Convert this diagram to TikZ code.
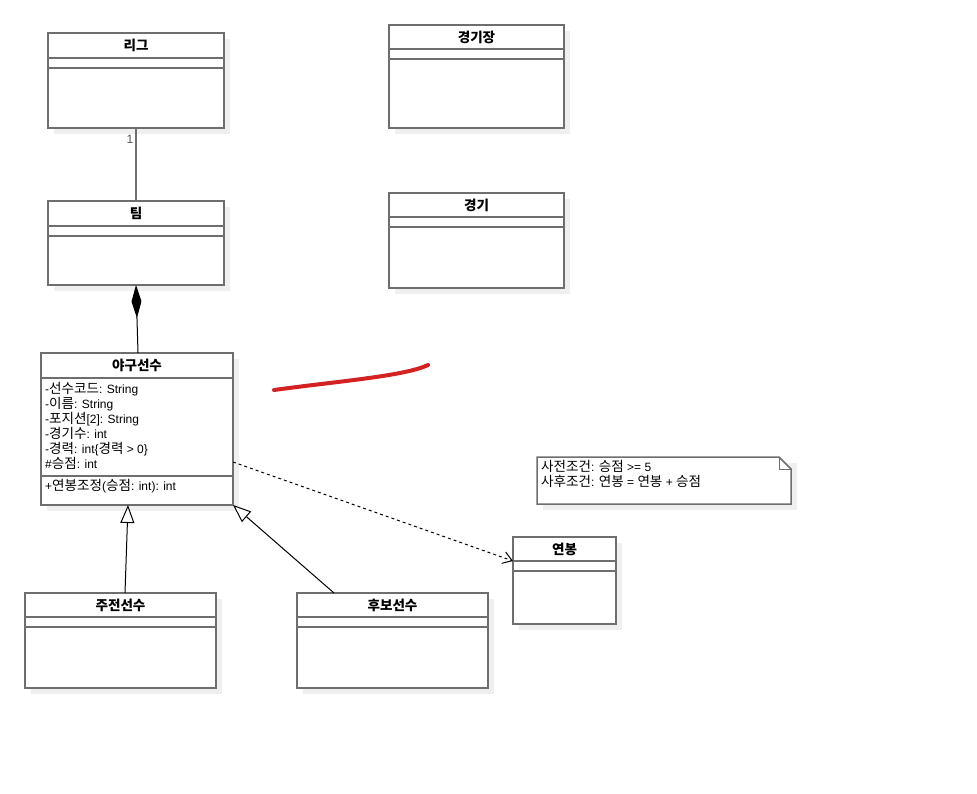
\documentclass[tikz,border=0pt]{standalone}
\usepackage{fontspec}
\setmainfont{Liberation Sans}
\newfontfamily\krfamily[Scale=1.13]{Noto Sans CJK KR}
\XeTeXinterchartokenstate=1
\newXeTeXintercharclass\krclass
\count255="AC00
\loop\ifnum\count255<"D7A4 \XeTeXcharclass\count255=\krclass \advance\count255 by 1 \repeat
\XeTeXinterchartoks 0 \krclass = {\krfamily}
\XeTeXinterchartoks 4095 \krclass = {\krfamily}
\XeTeXinterchartoks \krclass 0 = {\rmfamily}
\XeTeXinterchartoks \krclass 4095 = {\rmfamily}
\usetikzlibrary{arrows.meta,calc}
\definecolor{boxgray}{HTML}{6E6E6E}
\definecolor{shadowc}{HTML}{EFEFEF}
\definecolor{redpen}{HTML}{D42222}
\tikzset{
  classbox/.style={draw=boxgray, line width=2pt, fill=white, inner sep=0pt, outer sep=0pt},
  boxline/.style={draw=boxgray, line width=2pt},
  titletext/.style={font=\fontsize{12}{14}\selectfont\bfseries, inner sep=0pt},
  membertext/.style={font=\fontsize{12}{15}\selectfont, inner sep=0pt, anchor=west, align=left},
  assoc/.style={draw=boxgray, line width=1.5pt},
  genline/.style={draw=black, line width=1pt, -{Triangle[open, fill=white, length=18pt, width=14pt]}},
  depline/.style={draw=black, line width=1pt, dash pattern=on 3pt off 3pt, -{Straight Barb[length=9pt, width=12pt]}},
}
\newcommand{\umlclass}[8]{%
  \fill[shadowc] ({#2+6},{#3+6}) rectangle ({#2+#4+6},{#3+#5+6});
  \node[classbox, minimum width=#4pt, minimum height=#5pt, anchor=north west] (#1) at (#2,#3) {};
  \node[titletext] (#1-t) at ($(#1.north)+(0,12)$) {#6};
  \draw[boxline] ([yshift=-#7pt]#1.north west) -- ([yshift=-#7pt]#1.north east);
  \draw[boxline] ([yshift=-#8pt]#1.north west) -- ([yshift=-#8pt]#1.north east);
}
\begin{document}
\begin{tikzpicture}[x=1pt,y=-1pt]
\useasboundingbox[fill=white] (0,0) rectangle (977,794);

\umlclass{liga}{48}{33}{176}{95}{리그}{25}{35}
\umlclass{stadium}{389}{25}{175}{103}{경기장}{24}{34}
\umlclass{team}{48}{201}{176}{84}{팀}{25}{35}
\umlclass{game}{389}{193}{175}{95}{경기}{24}{34}
\umlclass{yagu}{41}{353}{192}{152}{야구선수}{25}{123}
\umlclass{jujeon}{25}{593}{191}{95}{주전선수}{24}{34}
\umlclass{hubo}{297}{593}{191}{95}{후보선수}{24}{34}
\umlclass{salary}{513}{537}{103}{87}{연봉}{24}{34}

\node[membertext] (attrs) at (45,425.5) {-선수코드: String\\-이름: String\\-포지션[2]: String\\-경기수: int\\-경력: int\{경력 > 0\}\\\#승점: int};
\node[membertext] (ops) at (45,486) {+연봉조정(승점: int): int};

% note
\fill[shadowc] (543,463) rectangle (797,510);
\draw[boxgray, line width=1.5pt, fill=white] (537,457) -- (779,457) -- (791,469) -- (791,504) -- (537,504) -- cycle;
\draw[boxgray, line width=1pt] (779,457) -- (779,469) -- (791,469);
\coordinate (note) at (537,457);
\node[membertext] (notetext) at (541,473.5) {사전조건: 승점 >= 5\\사후조건: 연봉 = 연봉 + 승점};

% connectors
\draw[assoc] (liga.south) -- (team.north);
\node[font=\fontsize{12}{14}\selectfont, inner sep=0pt, text=boxgray!80!black] (mult) at (130,139) {1};
\draw[draw=black, line width=1pt, {Diamond[fill=black, length=33pt, width=10pt]}-] (team.south) -- ([xshift=1pt]yagu.north);
\draw[genline] ([xshift=100pt]jujeon.north west) -- ([xshift=-9pt]yagu.south);
\draw[genline] ([xshift=37pt]hubo.north west) -- (yagu.south east);
\draw[depline] ([yshift=-109pt]yagu.north east) -- ([yshift=-24pt]salary.north west);

% red pen stroke
\draw[redpen, line width=4pt, line cap=round] (274,390) .. controls (340,381) and (405,376) .. (428,365);
\end{tikzpicture}
\end{document}
